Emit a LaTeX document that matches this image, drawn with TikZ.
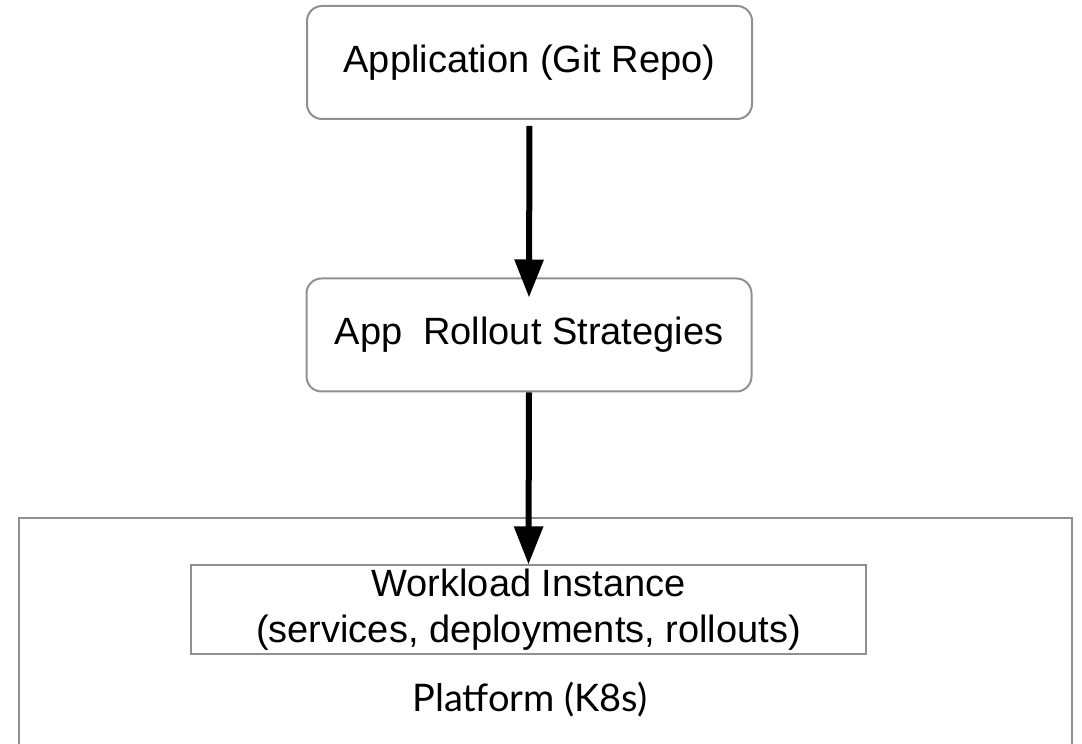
\documentclass[tikz,border=0pt]{standalone}
\usepackage{fontspec}
\setmainfont{Liberation Sans}
\newfontfamily\platfont{Lato}
\usepackage{xcolor}
\usepackage{tikz}
\usetikzlibrary{shapes.geometric, arrows.meta}
\definecolor{boxgray}{RGB}{142,144,148}
\tikzstyle{arrow} = [line width=6pt,-{Triangle[length=38pt,width=28pt]}]
\tikzstyle{roundbox} = [rectangle, rounded corners=15pt, draw=boxgray, line width=2pt, minimum width=445pt, minimum height=113pt, font=\fontsize{38}{46}\selectfont]
\tikzstyle{plainbox} = [rectangle, draw=boxgray, line width=2pt, minimum width=675pt, minimum height=87pt, align=center, font=\fontsize{38}{46}\selectfont]

\begin{document}
\begin{tikzpicture}[x=1pt,y=1pt]
                            \useasboundingbox (0,0) rectangle (1082,744);
                            \draw [draw=boxgray, line width = 2.5] (19, -20) rectangle (1072, 226);
                            \node (platform) at (530, 44) {\platfont\fontsize{38}{46}\selectfont Platform (K8s)};
                            \node [roundbox] (app) at (529.5, 681.5) {Application (Git Repo)};
                            \node [roundbox] (rollout) at (529, 409) {App\ \ Rollout Strategies};
                            \node [plainbox] (workload) at (528.5, 134.5) {Workload Instance\\(services, deployments, rollouts)};
                            \draw [arrow, shorten <=6pt] (app.south) -- ([yshift=-20pt]rollout.north);
                            \draw [arrow] (rollout.south) -- (workload.north);
                        \end{tikzpicture}
\end{document}
